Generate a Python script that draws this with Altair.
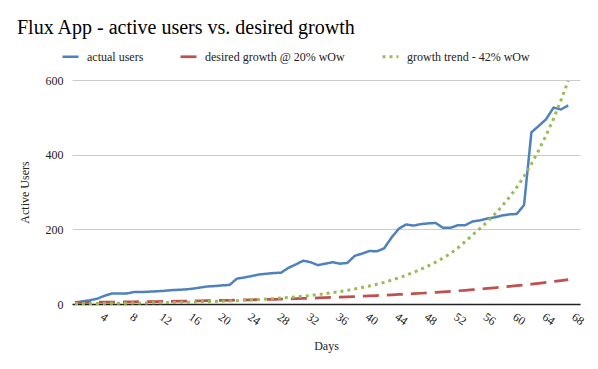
import altair as alt
import pandas as pd

days = list(range(68))

actual_users = [4, 7, 10, 14, 22, 28, 28, 28, 32, 32,
                33, 34, 35, 37, 38, 39, 41, 44, 47, 48,
                50, 51, 68, 71, 75, 79, 81, 83, 84, 97,
                106, 116, 112, 104, 108, 112, 108, 110, 129, 135,
                142, 141, 149, 178, 202, 213, 210, 214, 216, 217,
                204, 204, 211, 211, 221, 224, 229, 232, 237, 240,
                241, 265, 460, 477, 495, 526, 521, 532]

desired_growth = [4.2, 4.4, 4.6, 4.8, 5.0, 5.2, 5.4, 5.6, 5.9, 6.1,
                  6.4, 6.6, 6.9, 7.2, 7.5, 7.8, 8.1, 8.5, 8.8, 9.2,
                  9.6, 10.0, 10.4, 10.8, 11.3, 11.7, 12.2, 12.7, 13.3, 13.8,
                  14.4, 15.0, 15.6, 16.3, 16.9, 17.6, 18.4, 19.1, 19.9, 20.8,
                  21.6, 22.5, 23.5, 24.5, 25.5, 26.5, 27.6, 28.8, 30.0, 31.2,
                  32.5, 33.9, 35.3, 36.8, 38.3, 39.9, 41.6, 43.3, 45.1, 47.0,
                  49.0, 51.0, 53.1, 55.4, 57.7, 60.1, 62.6, 65.5]

growth_trend = [1.2, 1.3, 1.4, 1.5, 1.7, 1.9, 2.0, 2.2, 2.5, 2.7,
                3.0, 3.2, 3.6, 3.9, 4.3, 4.7, 5.2, 5.7, 6.2, 6.8,
                7.5, 8.2, 9.0, 9.9, 10.9, 11.9, 13.1, 14.4, 15.8, 17.3,
                19.0, 20.9, 22.9, 25.2, 27.6, 30.3, 33.3, 36.5, 40.1, 44.0,
                48.3, 53, 58, 64, 70, 77, 85, 93, 102, 112,
                123, 135, 150, 167, 185, 202, 220, 240, 262, 286,
                312, 342, 375, 412, 452, 496, 545, 598]

series_names = ["actual users", "desired growth @ 20% wOw", "growth trend - 42% wOw"]
series_colors = ["#4F81BD", "#C0504D", "#9BBB59"]
x_ticks = [4, 8, 12, 16, 20, 24, 28, 32, 36, 40, 44, 48, 52, 56, 60, 64, 68]
y_ticks = [0, 200, 400, 600]

rows = []
for name, vals in zip(series_names, [actual_users, desired_growth, growth_trend]):
    for d, v in zip(days, vals):
        rows.append({"day": d, "users": v, "series": name})
df = pd.DataFrame(rows)

FONT = "Liberation Serif"

chart = alt.Chart(df).mark_line(strokeCap="butt", strokeJoin="round").encode(
    x=alt.X("day:Q",
            scale=alt.Scale(domain=[-0.4, 68.6], nice=False, zero=False),
            axis=alt.Axis(values=x_ticks, title="Days", labelAngle=35, grid=False,
                          ticks=False, domainColor="#222", domainWidth=1.3,
                          labelPadding=7, titlePadding=14)),
    y=alt.Y("users:Q",
            scale=alt.Scale(domain=[0, 600], nice=False),
            axis=alt.Axis(values=y_ticks, title="Active Users", domain=False, ticks=False,
                          gridColor="#cccccc", labelPadding=9, titlePadding=14)),
    color=alt.Color("series:N",
                    scale=alt.Scale(domain=series_names, range=series_colors),
                    legend=alt.Legend(title=None)),
    strokeDash=alt.StrokeDash("series:N",
                              scale=alt.Scale(domain=series_names,
                                              range=[[1, 0], [16, 8], [3, 4]]),
                              legend=alt.Legend(title=None)),
    strokeWidth=alt.StrokeWidth("series:N",
                                scale=alt.Scale(domain=series_names, range=[2.5, 3, 2.6]),
                                legend=None),
    order=alt.Order("day:Q"),
).properties(
    width=508,
    height=224,
    padding={"left": 64, "top": 72, "right": 10, "bottom": 57},
    autosize=alt.AutoSizeParams(type="none"),
    title=alt.TitleParams(
        "Flux App - active users vs. desired growth",
        anchor="start", frame="group", font=FONT, fontSize=20, fontWeight="normal",
        color="#000000", dx=-55, dy=22, offset=15, baseline="alphabetic",
    ),
).configure(
    font=FONT
).configure_view(
    stroke=None
).configure_axis(
    labelFont=FONT, labelFontSize=12, labelColor="#222222",
    titleFont=FONT, titleFontSize=12, titleFontWeight="normal", titleColor="#222222",
).configure_legend(
    orient="none", legendX=-11, legendY=-33, direction="horizontal",
    symbolType="stroke", symbolSize=256, symbolStrokeWidth=3,
    labelFont=FONT, labelFontSize=12, labelColor="#222222", labelLimit=0,
    columnPadding=31, labelOffset=7,
)

chart.save("out.html", embed_options={"renderer": "svg", "actions": False})
